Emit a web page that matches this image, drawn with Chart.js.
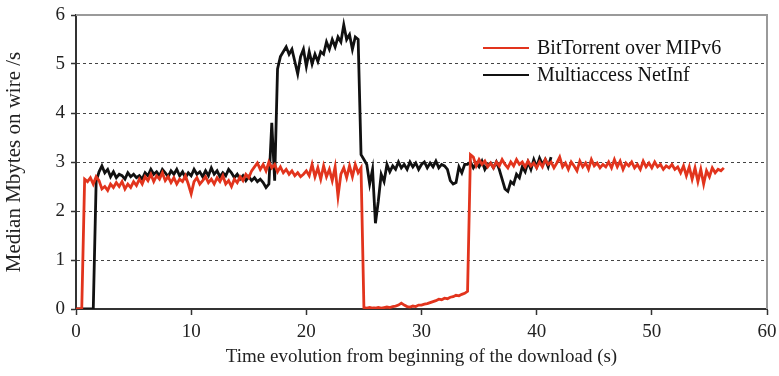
<!DOCTYPE html>
<html>
<head>
<meta charset="utf-8">
<script src="https://cdn.jsdelivr.net/npm/chart.js@4.4.1/dist/chart.umd.min.js"></script>
<style>
  html, body { margin: 0; padding: 0; background: #fff; }
  #wrap { position: relative; width: 779px; height: 376px; }
  #legend { position: absolute; left: 483px; top: 34px; font-family: "Liberation Serif", serif; font-size: 20px; color: #111; }
  .item { display: flex; align-items: center; height: 27px; }
  .swatch { width: 46px; height: 0; border-top: 2.8px solid; margin-right: 8px; }
</style>
</head>
<body>
<div id="wrap">
  <canvas id="chart" width="779" height="376"></canvas>
  <div id="legend">
    <div class="item"><span class="swatch" style="border-color:#e2341d"></span>BitTorrent over MIPv6</div>
    <div class="item"><span class="swatch" style="border-color:#111"></span>Multiaccess NetInf</div>
  </div>
</div>
<script>
// samples every 0.25 s, one row per second
const sampleStep = 0.25;

const bitTorrentMipv6 = [
  0, 0, 0, 2.65,
  2.6, 2.68, 2.55, 2.7,
  2.62, 2.45, 2.5, 2.42,
  2.55, 2.48, 2.58, 2.5,
  2.6, 2.45, 2.55, 2.48,
  2.6, 2.52, 2.65, 2.55,
  2.7, 2.62, 2.75, 2.6,
  2.72, 2.65, 2.78, 2.62,
  2.7, 2.58, 2.68, 2.55,
  2.65, 2.6, 2.72, 2.55,
  2.35, 2.6, 2.68, 2.55,   // 10 s
  2.62, 2.7, 2.58, 2.65,
  2.55, 2.68, 2.6, 2.72,
  2.55, 2.62, 2.5, 2.65,
  2.58, 2.7, 2.62, 2.75,
  2.68, 2.82, 2.9, 2.98,
  2.85, 2.95, 2.82, 3.0,
  2.88, 2.95, 2.8, 2.9,
  2.78, 2.85, 2.75, 2.82,
  2.72, 2.78, 2.7, 2.75,
  2.82, 2.72, 2.95, 2.7,   // 20 s
  2.88, 2.65, 2.92, 2.7,
  2.85, 2.62, 2.9, 2.3,
  2.75, 2.88, 2.68, 2.92,
  2.7, 2.95, 2.78, 2.88,
  0.03, 0.02, 0.03, 0.02,
  0.02, 0.03, 0.02, 0.03,
  0.04, 0.03, 0.05, 0.06,
  0.08, 0.12, 0.08, 0.05,
  0.04, 0.06, 0.05, 0.08,
  0.08, 0.1, 0.11, 0.13,   // 30 s
  0.15, 0.17, 0.2, 0.19,
  0.22, 0.21, 0.24, 0.25,
  0.28, 0.27, 0.3, 0.32,
  0.36, 3.15, 3.1, 2.92,
  3.05, 2.95, 3.02, 2.9,
  2.98, 2.88, 3.0, 2.92,
  3.05, 2.95, 2.88, 3.0,
  2.92, 3.05, 2.95, 3.0,
  2.9, 3.02, 2.92, 2.98,
  2.88, 3.0, 2.9, 3.05,    // 40 s
  2.95, 3.0, 2.88, 2.98,
  3.1, 2.9, 2.98, 2.85,
  3.0, 2.92, 2.82, 3.02,
  2.9, 2.98, 2.85, 3.05,
  2.92, 2.98, 2.88, 2.95,
  2.9, 3.0, 2.88, 3.05,
  2.9, 3.02, 2.85, 2.98,
  2.92, 3.0, 2.88, 2.95,
  2.85, 3.02, 2.9, 2.98,
  2.88, 3.0, 2.9, 2.95,    // 50 s
  2.85, 2.92, 2.88, 2.95,
  2.85, 2.9, 2.78, 2.92,
  2.72, 2.9, 2.65, 2.88,
  2.6, 2.85, 2.55, 2.82,
  2.7, 2.88, 2.78, 2.85,
  2.82, 2.88
];

const multiaccessNetInf = [
  0, 0, 0, 0,
  0, 0, 0, 2.6,
  2.8, 2.92, 2.78, 2.85,
  2.7, 2.8, 2.68, 2.75,
  2.72, 2.65, 2.78, 2.7,
  2.75, 2.68, 2.72, 2.65,
  2.78, 2.72, 2.85, 2.75,
  2.8, 2.72, 2.85, 2.78,
  2.7, 2.82, 2.75, 2.85,
  2.72, 2.8, 2.68, 2.78,
  2.72, 2.85, 2.75, 2.8,   // 10 s
  2.7, 2.82, 2.72, 2.88,
  2.75, 2.82, 2.7, 2.78,
  2.72, 2.85, 2.78, 2.68,
  2.75, 2.65, 2.72, 2.62,
  2.7, 2.62, 2.68, 2.6,
  2.65, 2.58, 2.48, 2.55,
  3.8, 2.62, 4.9, 5.15,
  5.25, 5.35, 5.2, 5.3,
  5.05, 4.8, 5.15, 5.3,
  4.95, 5.25, 5.0, 5.2,    // 20 s
  5.05, 5.25, 5.2, 5.45,
  5.3, 5.5, 5.35, 5.55,
  5.45, 5.8, 5.5, 5.6,
  5.3, 5.55, 5.5, 3.15,
  3.05, 2.95, 2.55, 2.85,
  1.75, 2.2, 2.75, 2.6,
  2.95, 2.8, 2.92, 2.85,
  3.0, 2.88, 2.95, 2.85,
  3.0, 2.9, 2.98, 2.85,
  2.95, 3.0, 2.88, 2.98,   // 30 s
  2.9, 3.02, 2.88, 2.95,
  2.92, 2.85, 2.62, 2.55,
  2.58, 2.9, 2.78, 2.95,
  2.95, 3.0, 2.88, 2.98,
  2.9, 3.02, 2.85, 2.95,
  2.98, 2.88, 3.0, 2.85,
  2.65, 2.45, 2.4, 2.6,
  2.55, 2.75, 2.68, 2.9,
  2.8, 3.0, 2.85, 3.05,
  2.9, 3.08, 2.95, 3.05,   // 40 s
  2.9, 3.1
];

const xTicks = [0, 10, 20, 30, 40, 50, 60];
const yTicks = [0, 1, 2, 3, 4, 5, 6];

const toPoints = arr => arr.map((v, i) => ({ x: i * sampleStep, y: v }));

const serif = '"Liberation Serif", "Times New Roman", serif';

// grey frame on the top and right side
const framePlugin = {
  id: 'frame',
  afterDraw(chart) {
    const { ctx, chartArea: a } = chart;
    ctx.save();
    ctx.strokeStyle = '#9a9a9a';
    ctx.lineWidth = 2;
    ctx.beginPath();
    ctx.moveTo(a.left, a.top);
    ctx.lineTo(a.right, a.top);
    ctx.lineTo(a.right, a.bottom);
    ctx.stroke();
    ctx.restore();
  }
};

const ctx = document.getElementById('chart').getContext('2d');
new Chart(ctx, {
  type: 'line',
  data: {
    datasets: [
      {
        label: 'BitTorrent over MIPv6',
        data: toPoints(bitTorrentMipv6),
        borderColor: '#e2341d',
        borderWidth: 2.8
      },
      {
        label: 'Multiaccess NetInf',
        data: toPoints(multiaccessNetInf),
        borderColor: '#111111',
        borderWidth: 2.8
      }
    ]
  },
  options: {
    responsive: false,
    animation: false,
    layout: { padding: { top: 15, right: 12, left: 0, bottom: 0 } },
    elements: { point: { radius: 0 }, line: { tension: 0 } },
    plugins: { legend: { display: false }, tooltip: { enabled: false } },
    scales: {
      x: {
        type: 'linear',
        min: 0,
        max: 60,
        afterBuildTicks: s => { s.ticks = xTicks.map(v => ({ value: v })); },
        afterFit: s => { s.height = 67; s.paddingLeft = 0; s.paddingRight = 0; },
        ticks: { color: '#222', font: { family: serif, size: 19 }, padding: 6, maxRotation: 0 },
        grid: { drawOnChartArea: false, drawTicks: true, tickLength: 6, tickColor: '#333', tickWidth: 1.5 },
        border: { color: '#333', width: 2 },
        title: {
          display: true,
          text: 'Time evolution from beginning of the download (s)',
          color: '#222',
          font: { family: serif, size: 19 },
          padding: { top: 0, bottom: 8 }
        }
      },
      y: {
        min: 0,
        max: 6,
        afterBuildTicks: s => { s.ticks = yTicks.map(v => ({ value: v })); },
        afterFit: s => { s.width = 76; s.paddingTop = 0; s.paddingBottom = 0; },
        ticks: { color: '#222', font: { family: serif, size: 19 }, padding: 6 },
        grid: {
          color: c => (c.tick && (c.tick.value === 0 || c.tick.value === 6)) ? 'rgba(0,0,0,0)' : '#444',
          lineWidth: 1,
          tickLength: 5,
          tickColor: '#333',
          tickWidth: 1.5,
          tickBorderDash: [1, 0]
        },
        border: { color: '#333', width: 2, dash: [3, 3] },
        title: {
          display: true,
          text: 'Median Mbytes on wire /s',
          color: '#222',
          font: { family: serif, size: 21 },
          padding: { top: 2, bottom: 0 }
        }
      }
    }
  },
  plugins: [framePlugin]
});
</script>
</body>
</html>
